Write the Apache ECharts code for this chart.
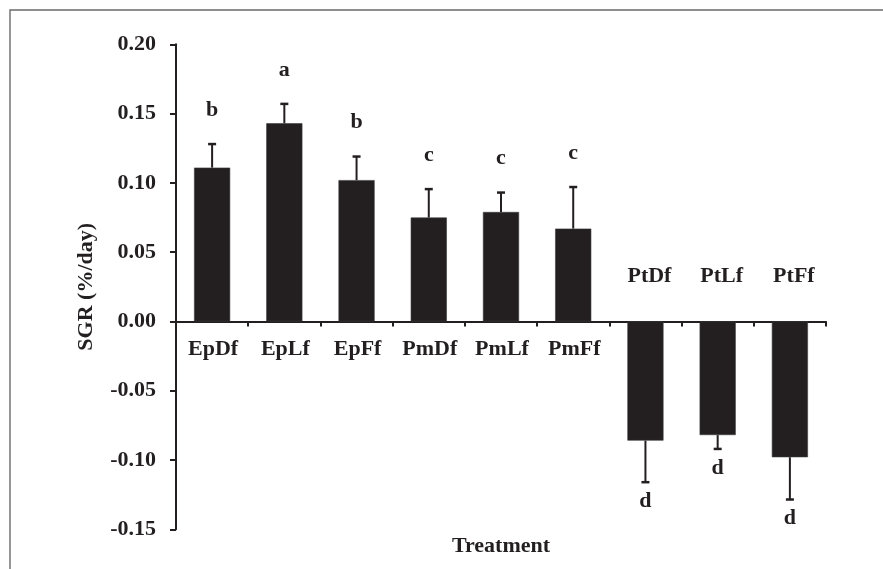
<!DOCTYPE html>
<html>
<head>
<meta charset="utf-8">
<script src="https://cdn.jsdelivr.net/npm/echarts@6/dist/echarts.min.js"></script>
<style>
  html, body { margin: 0; padding: 0; background: #ffffff; }
  #chart { width: 883px; height: 569px; }
</style>
</head>
<body>
<div id="chart"></div>
<script>
// Specific growth rate per treatment (mean and one-sided SE)
const treatments = ['EpDf', 'EpLf', 'EpFf', 'PmDf', 'PmLf', 'PmFf', 'PtDf', 'PtLf', 'PtFf'];
const sgrMean = [0.111, 0.143, 0.102, 0.075, 0.079, 0.067, -0.086, -0.082, -0.098];
const sgrError = [0.017, 0.014, 0.017, 0.0205, 0.014, 0.030, 0.030, 0.010, 0.0305];
const groupLetters = ['b', 'a', 'b', 'c', 'c', 'c', 'd', 'd', 'd'];

// Value-axis tick range
const yMin = -0.15;
const yMax = 0.20;
const yStep = 0.05;

const INK = '#231f20';
const FONT = 'Liberation Serif, Times New Roman, serif';
const fontCss = 'bold 22px ' + FONT;

const chart = echarts.init(document.getElementById('chart'));

chart.setOption({
  animation: false,
  backgroundColor: '#ffffff',
  grid: { left: 176, right: 57, top: 44.3, bottom: 39.7, containLabel: false },
  graphic: [
    {
      type: 'rect',
      z: -10,
      shape: { x: 10, y: 10, width: 1000, height: 700 },
      style: { fill: 'transparent', stroke: '#6b6b6b', lineWidth: 1.4 }
    },
    {
      type: 'text',
      x: 501,
      y: 546,
      style: {
        text: 'Treatment',
        font: fontCss,
        fill: INK,
        align: 'center',
        verticalAlign: 'middle'
      }
    }
  ],
  xAxis: {
    type: 'category',
    data: treatments,
    axisLine: { onZero: true, lineStyle: { color: INK, width: 2 } },
    axisTick: { show: true, inside: false, length: 5, lineStyle: { color: INK, width: 2 } },
    // group names sit against the zero line, drawn by the custom series below
    axisLabel: { show: false },
    splitLine: { show: false }
  },
  yAxis: {
    type: 'value',
    min: yMin,
    max: yMax,
    interval: yStep,
    name: 'SGR (%/day)',
    nameLocation: 'middle',
    nameRotate: 90,
    nameGap: 79,
    nameTextStyle: { color: INK, fontFamily: FONT, fontWeight: 'bold', fontSize: 22 },
    axisLine: { show: true, onZero: false, lineStyle: { color: INK, width: 2 } },
    axisTick: { show: true, inside: false, length: 6, lineStyle: { color: INK, width: 2 } },
    axisLabel: {
      margin: 20,
      color: INK,
      fontFamily: FONT,
      fontWeight: 'bold',
      fontSize: 22,
      formatter: function (v) { return (Math.abs(v) < 1e-9 ? 0 : v).toFixed(2); }
    },
    splitLine: { show: false }
  },
  series: [
    {
      type: 'bar',
      data: sgrMean,
      barWidth: '50%',
      itemStyle: { color: INK, borderColor: '#3a3a3a', borderWidth: 0.6 },
      z: 2
    },
    {
      // one-sided error bars, significance letters and group names
      type: 'custom',
      z: 3,
      data: treatments.map(function (t, i) { return [i, sgrMean[i], sgrError[i]]; }),
      renderItem: function (params, api) {
        const i = api.value(0);
        const mean = api.value(1);
        const err = api.value(2);
        const dir = mean >= 0 ? 1 : -1;
        const base = api.coord([i, mean]);
        const tip = api.coord([i, mean + dir * err]);
        const zero = api.coord([i, 0]);
        const half = 4;
        return {
          type: 'group',
          children: [
            {
              type: 'line',
              shape: { x1: base[0], y1: base[1], x2: tip[0], y2: tip[1] },
              style: { stroke: INK, lineWidth: 2 }
            },
            {
              type: 'line',
              shape: { x1: tip[0] - half, y1: tip[1], x2: tip[0] + half, y2: tip[1] },
              style: { stroke: INK, lineWidth: 2.5 }
            },
            {
              type: 'text',
              style: {
                text: groupLetters[i],
                x: tip[0],
                y: dir > 0 ? tip[1] - 34 : tip[1] + 19,
                align: 'center',
                verticalAlign: 'middle',
                font: fontCss,
                fill: INK
              }
            },
            {
              // names go below the zero line for gains, above it for losses
              type: 'text',
              style: {
                text: treatments[i],
                x: dir > 0 ? zero[0] + 1 : zero[0] + 4,
                y: dir > 0 ? zero[1] + 28 : zero[1] - 45,
                align: 'center',
                verticalAlign: 'middle',
                font: fontCss,
                fill: INK
              }
            }
          ]
        };
      }
    }
  ]
});
</script>
</body>
</html>
